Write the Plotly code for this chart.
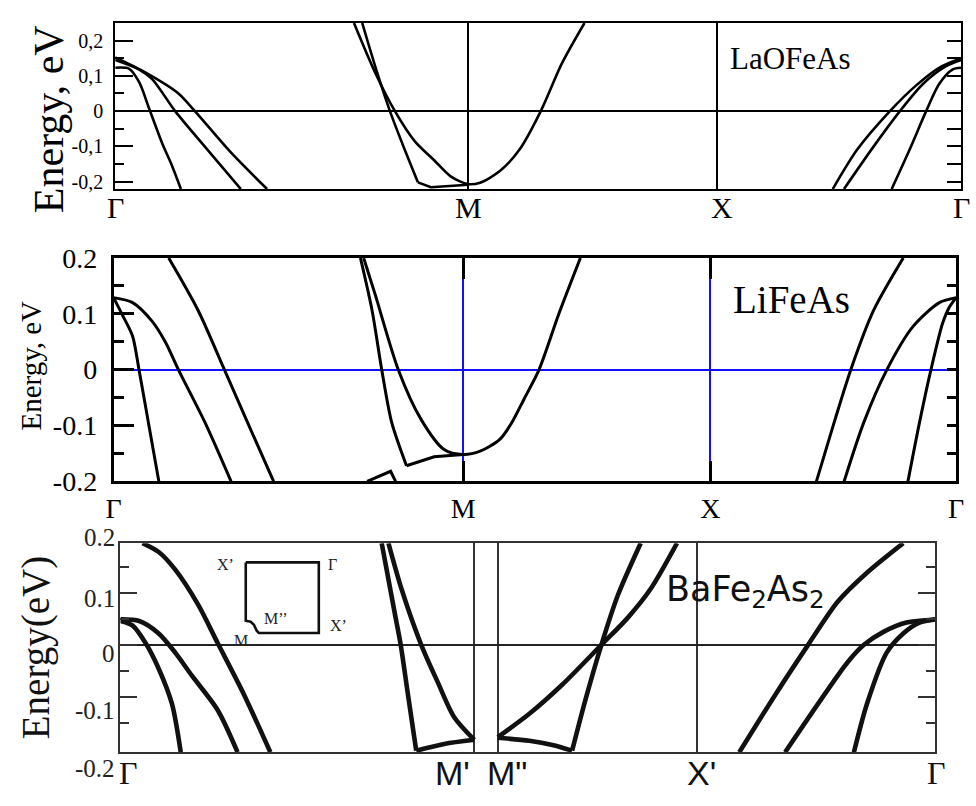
import plotly.graph_objects as go

SERIF = "Liberation Serif"
SANS = "Liberation Sans"
VERA = "DejaVu Sans"
BLUE = "#1010ff"

W, H = 976, 806

# ---------------- LaOFeAs : Γ - M - X - Γ ----------------
la_kpts = [0.0, 1.413, 2.410, 3.387]
la_klabels = ["Γ", "M", "X", "Γ"]
la_eticks = [-0.2, -0.1, 0.0, 0.1, 0.2]
la_eticktext = ["-0,2", "-0,1", "0", "0,1", "0,2"]
la_erange = [-0.221, 0.25]

la_b1_k = [0.0, 0.056, 0.096, 0.135, 0.188, 0.227, 0.263]
la_b1_e = [0.123, 0.120, 0.082, 0.009, -0.091, -0.154, -0.221]
la_b2_k = [0.0, 0.096, 0.148, 0.240, 0.358, 0.503]
la_b2_e = [0.145, 0.118, 0.091, 0.0, -0.100, -0.221]
la_b3_k = [0.0, 0.122, 0.253, 0.319, 0.464, 0.608]
la_b3_e = [0.152, 0.109, 0.050, 0.0, -0.118, -0.221]
la_b4_k = [0.989, 1.041, 1.100, 1.159, 1.212]
la_b4_e = [0.250, 0.127, 0.0, -0.109, -0.202]
la_b4flat_k = [1.212, 1.264, 1.413]
la_b4flat_e = [-0.202, -0.216, -0.209]
la_b5_k = [0.956, 1.041, 1.120, 1.199, 1.278, 1.343, 1.413, 1.461, 1.540, 1.619, 1.704, 1.789, 1.879]
la_b5_e = [0.250, 0.109, 0.0, -0.085, -0.140, -0.185, -0.207, -0.203, -0.170, -0.109, 0.0, 0.136, 0.250]
la_b6_k = [2.873, 2.971, 3.102, 3.207, 3.299, 3.387]
la_b6_e = [-0.221, -0.109, 0.0, 0.073, 0.123, 0.150]
la_b7_k = [2.918, 3.037, 3.142, 3.234, 3.325, 3.387]
la_b7_e = [-0.221, -0.100, 0.0, 0.077, 0.127, 0.145]
la_b8_k = [3.109, 3.181, 3.247, 3.299, 3.352, 3.387]
la_b8_e = [-0.221, -0.109, 0.0, 0.077, 0.118, 0.123]

# ---------------- LiFeAs : Γ - M - X - Γ ----------------
li_kpts = [0.0, 1.413, 2.412, 3.406]
li_klabels = ["Γ", "M", "X", "Γ"]
li_eticks = [-0.2, -0.1, 0.0, 0.1, 0.2]
li_eticktext = ["-0.2", "-0.1", "0", "0.1", "0.2"]
li_erange = [-0.2, 0.2]

li_b1_k = [0.0, 0.037, 0.077, 0.103, 0.143, 0.183]
li_b1_e = [0.129, 0.097, 0.060, 0.0, -0.100, -0.200]
li_b2_k = [0.0, 0.077, 0.157, 0.210, 0.262, 0.369, 0.475]
li_b2_e = [0.129, 0.120, 0.086, 0.049, 0.0, -0.094, -0.200]
li_b3_k = [0.223, 0.342, 0.448, 0.541, 0.647]
li_b3_e = [0.200, 0.106, 0.0, -0.094, -0.200]
li_b4_k = [0.998, 1.045, 1.084, 1.124, 1.184]
li_b4_e = [0.200, 0.106, 0.0, -0.094, -0.172]
li_b4flat_k = [1.184, 1.296, 1.413]
li_b4flat_e = [-0.172, -0.156, -0.152]
li_b5_k = [1.011, 1.058, 1.151, 1.243, 1.336, 1.413, 1.482, 1.561, 1.607, 1.660, 1.720, 1.800, 1.887]
li_b5_e = [0.200, 0.134, 0.0, -0.089, -0.143, -0.152, -0.146, -0.125, -0.097, -0.052, 0.0, 0.100, 0.200]
li_b6_k = [1.025, 1.120, 1.140]
li_b6_e = [-0.200, -0.182, -0.200]
li_b7_k = [2.841, 2.913, 2.980, 3.072, 3.192]
li_b7_e = [-0.200, -0.094, 0.0, 0.106, 0.200]
li_b8_k = [2.953, 3.033, 3.126, 3.231, 3.338, 3.406]
li_b8_e = [-0.200, -0.094, 0.0, 0.077, 0.120, 0.129]
li_b9_k = [3.211, 3.258, 3.304, 3.351, 3.377, 3.406]
li_b9_e = [-0.200, -0.094, 0.0, 0.083, 0.111, 0.129]

# ---------------- BaFe2As2 : Γ - M' | M'' - X' - Γ ----------------
ba_kpts = [0.0, 1.414, 1.508, 2.302, 3.256]
ba_klabels = ["Γ", "M'", 'M"', "X'", "Γ"]
ba_eticks = [0.2, 0.1, 0.0, -0.1, -0.2]
ba_eticktext = ["0.2", "0.1", "0", "-0.1", "-0.2"]
ba_erange = [-0.207, 0.196]

ba_b1_k = [0.0, 0.049, 0.101, 0.153, 0.206, 0.241]
ba_b1_e = [0.046, 0.037, 0.003, -0.046, -0.114, -0.207]
ba_b2_k = [0.0, 0.075, 0.153, 0.219, 0.285, 0.389, 0.468]
ba_b2_e = [0.049, 0.046, 0.022, -0.015, -0.059, -0.126, -0.207]
ba_b3_k = [0.088, 0.153, 0.219, 0.311, 0.389, 0.494, 0.599]
ba_b3_e = [0.196, 0.179, 0.145, 0.077, 0.003, -0.096, -0.207]
ba_b4_k = [1.044, 1.097, 1.120, 1.149, 1.182]
ba_b4_e = [0.196, 0.059, 0.0, -0.096, -0.204]
ba_b4flat_k = [1.182, 1.294, 1.414]
ba_b4flat_e = [-0.204, -0.191, -0.183]
ba_b5_k = [1.071, 1.123, 1.202, 1.267, 1.333, 1.414]
ba_b5_e = [0.196, 0.108, 0.0, -0.071, -0.139, -0.183]
ba_b6_k = [1.508, 1.634, 1.765, 1.922, 2.027, 2.119, 2.224]
ba_b6_e = [-0.178, -0.133, -0.077, 0.0, 0.052, 0.108, 0.196]
ba_b7flat_k = [1.508, 1.634, 1.726, 1.805]
ba_b7flat_e = [-0.179, -0.185, -0.193, -0.204]
ba_b7_k = [1.805, 1.857, 1.922, 1.988, 2.079]
ba_b7_e = [-0.204, -0.108, 0.0, 0.096, 0.196]
ba_b8_k = [2.473, 2.617, 2.748, 2.866, 2.983, 3.128]
ba_b8_e = [-0.207, -0.096, 0.0, 0.083, 0.139, 0.196]
ba_b9_k = [2.656, 2.813, 2.905, 2.971, 3.049, 3.141, 3.256]
ba_b9_e = [-0.207, -0.096, -0.034, 0.0, 0.025, 0.043, 0.049]
ba_b10_k = [2.931, 2.983, 3.062, 3.128, 3.193, 3.256]
ba_b10_e = [-0.207, -0.114, -0.015, 0.022, 0.043, 0.049]

# Brillouin-zone sketch (unit square with the cut corner at M)
bz_x = [0.0, 1.0, 1.0, 0.179, 0.148, 0.112, 0.067, 0.0, 0.0]
bz_y = [1.0, 1.0, 0.0, 0.0, 0.036, 0.118, 0.159, 0.173, 1.0]
bz_labels = ["X’", "Γ", "M’’", "X’", "M"]
bz_label_x = [-0.28, 1.19, 0.42, 1.27, -0.06]
bz_label_y = [0.97, 0.97, 0.21, 0.10, -0.10]


def dom_x(a, b):
    return [a / W, b / W]


def dom_y(top, bottom):
    return [1 - bottom / H, 1 - top / H]


# panel frames (page pixels)
P1_TOP, P1_BOTTOM = 8.3, 181
P3_TOP, P3_BOTTOM = 549.3, 766.7


def ba_energy_to_paper(v):
    lo, hi = ba_erange
    d0, d1 = dom_y(P3_TOP, P3_BOTTOM)
    return d0 + (v - lo) / (hi - lo) * (d1 - d0)


fig = go.Figure()


def band(k, e, xa, ya, width, shape="spline", color="black"):
    line = dict(color=color, width=width, shape=shape)
    if shape == "spline":
        line["smoothing"] = 0.8
    fig.add_trace(go.Scatter(x=k, y=e, xaxis=xa, yaxis=ya, mode="lines",
                             line=line, hoverinfo="skip", showlegend=False))


# LaOFeAs bands
for k, e in [(la_b1_k, la_b1_e), (la_b2_k, la_b2_e), (la_b3_k, la_b3_e),
             (la_b4_k, la_b4_e), (la_b5_k, la_b5_e), (la_b6_k, la_b6_e),
             (la_b7_k, la_b7_e), (la_b8_k, la_b8_e)]:
    band(k, e, "x", "y", 2.6)
band(la_b4flat_k, la_b4flat_e, "x", "y", 2.6, shape="linear")

# LiFeAs bands
for k, e in [(li_b1_k, li_b1_e), (li_b2_k, li_b2_e), (li_b3_k, li_b3_e),
             (li_b4_k, li_b4_e), (li_b5_k, li_b5_e), (li_b7_k, li_b7_e),
             (li_b8_k, li_b8_e), (li_b9_k, li_b9_e)]:
    band(k, e, "x2", "y2", 3)
band(li_b4flat_k, li_b4flat_e, "x2", "y2", 3, shape="linear")
band(li_b6_k, li_b6_e, "x2", "y2", 3, shape="linear")

# BaFe2As2 bands
for k, e in [(ba_b1_k, ba_b1_e), (ba_b2_k, ba_b2_e), (ba_b3_k, ba_b3_e),
             (ba_b4_k, ba_b4_e), (ba_b5_k, ba_b5_e), (ba_b6_k, ba_b6_e),
             (ba_b7_k, ba_b7_e), (ba_b8_k, ba_b8_e), (ba_b9_k, ba_b9_e),
             (ba_b10_k, ba_b10_e)]:
    band(k, e, "x3", "y3", 4.6, color="#111111")
band(ba_b4flat_k, ba_b4flat_e, "x3", "y3", 4.6, color="#111111")
band(ba_b7flat_k, ba_b7flat_e, "x3", "y3", 4.6, color="#111111")

# Brillouin-zone inset
fig.add_trace(go.Scatter(x=bz_x, y=bz_y, xaxis="x4", yaxis="y4", mode="lines",
                         line=dict(color="#111111", width=2.6), hoverinfo="skip",
                         showlegend=False))

# placeholders so the right-hand tick axes are rendered
fig.add_trace(go.Scatter(x=[None], y=[None], xaxis="x", yaxis="y5",
                         showlegend=False, hoverinfo="skip"))
fig.add_trace(go.Scatter(x=[None], y=[None], xaxis="x2", yaxis="y6",
                         showlegend=False, hoverinfo="skip"))

minor_vals = [-0.15, -0.05, 0.05, 0.15]
all_vals = [-0.2, -0.15, -0.1, -0.05, 0.0, 0.05, 0.1, 0.15, 0.2]

layout = dict(
    width=W, height=H,
    margin=dict(l=0, r=0, t=0, b=0),
    paper_bgcolor="white", plot_bgcolor="rgba(0,0,0,0)",
    showlegend=False,
    # ---- LaOFeAs ----
    xaxis=dict(domain=dom_x(109, 969), range=[0, la_kpts[-1]], anchor="y",
               tickmode="array", tickvals=la_kpts, ticks="", showticklabels=False,
               showgrid=True, gridcolor="black", gridwidth=1.6, zeroline=False,
               showline=True, linecolor="black", linewidth=2, mirror=True),
    yaxis=dict(domain=dom_y(P1_TOP, P1_BOTTOM), range=la_erange, anchor="x",
               tickmode="array", tickvals=la_eticks, ticktext=la_eticktext,
               ticks="inside", ticklen=18, tickwidth=2, tickcolor="black",
               minor=dict(tickmode="array", tickvals=minor_vals, ticks="inside",
                          ticklen=9, tickwidth=2, tickcolor="black", showgrid=False),
               showgrid=False, zeroline=True, zerolinecolor="black", zerolinewidth=1.6,
               showline=True, linecolor="black", linewidth=2, mirror=True,
               ticklabelstandoff=6,
               tickfont=dict(family=SERIF, size=20, color="black")),
    yaxis5=dict(overlaying="y", side="right", anchor="x", range=la_erange,
                tickmode="array", tickvals=all_vals, ticks="inside", ticklen=14,
                tickwidth=2, tickcolor="black", showticklabels=False,
                showgrid=False, zeroline=False, showline=False),
    # ---- LiFeAs ----
    xaxis2=dict(domain=dom_x(107.3, 964), range=[0, li_kpts[-1]], anchor="y2",
                tickmode="array", tickvals=li_kpts, ticktext=li_klabels,
                ticks="inside", ticklen=21, tickwidth=2.5, tickcolor="black",
                showgrid=True, gridcolor=BLUE, gridwidth=1.6, zeroline=False,
                showline=True, linecolor="black", linewidth=2.5, mirror="ticks",
                tickfont=dict(family=SERIF, size=28, color="black")),
    yaxis2=dict(domain=dom_y(252.7, 485), range=li_erange, anchor="x2",
                tickmode="array", tickvals=li_eticks, ticktext=li_eticktext,
                ticks="inside", ticklen=21, tickwidth=2.5, tickcolor="black",
                minor=dict(tickmode="array", tickvals=minor_vals, ticks="inside",
                           ticklen=11, tickwidth=2.5, tickcolor="black", showgrid=False),
                showgrid=False, zeroline=True, zerolinecolor=BLUE, zerolinewidth=1.6,
                showline=True, linecolor="black", linewidth=2.5, mirror=True,
                ticklabelstandoff=8,
                tickfont=dict(family=SERIF, size=28, color="black")),
    yaxis6=dict(overlaying="y2", side="right", anchor="x2", range=li_erange,
                tickmode="array", tickvals=minor_vals + [-0.1, 0.0, 0.1],
                ticks="inside", ticklen=9, tickwidth=2.5, tickcolor="black",
                showticklabels=False, showgrid=False, zeroline=False, showline=False),
    # ---- BaFe2As2 ----
    xaxis3=dict(domain=dom_x(114.3, 942.7), range=[0, ba_kpts[-1]], anchor="y3",
                tickmode="array", tickvals=ba_kpts, ticks="", showticklabels=False,
                showgrid=True, gridcolor="#333333", gridwidth=1.6, zeroline=False,
                showline=True, linecolor="#333333", linewidth=1.6, mirror=True),
    yaxis3=dict(domain=dom_y(P3_TOP, P3_BOTTOM), range=ba_erange, anchor="x3",
                tickmode="array", tickvals=[-0.1, 0.0, 0.1], ticks="inside",
                ticklen=17, tickwidth=2, tickcolor="#333333", showticklabels=False,
                minor=dict(tickmode="array", tickvals=minor_vals, ticks="inside",
                           ticklen=9, tickwidth=2, tickcolor="#333333", showgrid=False),
                showgrid=False, zeroline=True, zerolinecolor="#222222", zerolinewidth=1.6,
                showline=True, linecolor="#333333", linewidth=1.6, mirror="ticks"),
    # ---- inset (wide range so the corner labels stay inside it) ----
    xaxis4=dict(domain=dom_x(208.3, 349.4), range=[-0.45, 1.45], anchor="y4",
                visible=False, fixedrange=True),
    yaxis4=dict(domain=dom_y(558.3, 661.1), range=[-0.25, 1.15], anchor="x4",
                visible=False, fixedrange=True),
)
fig.update_layout(**layout)

ann = []
# compound names
ann.append(dict(text="LaOFeAs", xref="paper", yref="paper", x=796 / W, y=1 - 45 / H,
                showarrow=False, xanchor="center", yanchor="middle",
                font=dict(family=SERIF, size=31, color="black")))
ann.append(dict(text="LiFeAs", xref="paper", yref="paper", x=797 / W, y=1 - 296 / H,
                showarrow=False, xanchor="center", yanchor="middle",
                font=dict(family=SERIF, size=39, color="black")))
ann.append(dict(text="BaFe<sub>2</sub>As<sub>2</sub>", xref="paper", yref="paper",
                x=750 / W, y=1 - 600 / H, showarrow=False, xanchor="center",
                yanchor="middle", font=dict(family=VERA, size=35, color="#111111")))
# energy axis titles
ann.append(dict(text="Energy, eV", xref="paper", yref="paper", x=42 / W, y=1 - 108 / H,
                textangle=-90, showarrow=False, xanchor="center", yanchor="middle",
                font=dict(family=SERIF, size=42, color="black")))
ann.append(dict(text="Energy, eV", xref="paper", yref="paper", x=23 / W, y=1 - 365 / H,
                textangle=-90, showarrow=False, xanchor="center", yanchor="middle",
                font=dict(family=SERIF, size=29, color="black")))
ann.append(dict(text="Energy(eV)", xref="paper", yref="paper", x=28 / W, y=1 - 658 / H,
                textangle=-90, showarrow=False, xanchor="center", yanchor="middle",
                font=dict(family=SERIF, size=39, color="#111111")))

# LaOFeAs k-point labels
la_label_dx = [0, 0, 5, 0]
for kv, txt, dx in zip(la_kpts, la_klabels, la_label_dx):
    ann.append(dict(text=txt, xref="x", yref="paper", x=kv, xshift=dx, y=1 - 200 / H,
                    showarrow=False, xanchor="center", yanchor="middle",
                    font=dict(family=SERIF, size=30, color="black")))

# BaFe2As2 energy labels (slightly displaced from their ticks)
ba_label_shift = [4, -6, -9, -14, -20]
for val, txt, dy in zip(ba_eticks, ba_eticktext, ba_label_shift):
    ann.append(dict(text=txt, xref="paper", yref="paper", x=111 / W,
                    y=ba_energy_to_paper(val), yshift=dy,
                    showarrow=False, xanchor="right", yanchor="middle",
                    font=dict(family=SERIF, size=25, color="#222222")))

# BaFe2As2 k-point labels
ba_label_font = [SERIF, SANS, SANS, SANS, SERIF]
ba_label_size = [32, 34, 34, 34, 32]
ba_label_dx = [8, -22, 9, 5, 1]
for kv, txt, fam, sz, dx in zip(ba_kpts, ba_klabels, ba_label_font, ba_label_size, ba_label_dx):
    ann.append(dict(text=txt, xref="x3", yref="paper", x=kv, xshift=dx, y=1 - 788 / H,
                    showarrow=False, xanchor="center", yanchor="middle",
                    font=dict(family=fam, size=sz, color="#111111")))

# inset labels
for txt, lx, ly in zip(bz_labels, bz_label_x, bz_label_y):
    ann.append(dict(text=txt, xref="x4", yref="y4", x=lx, y=ly, showarrow=False,
                    xanchor="center", yanchor="middle",
                    font=dict(family=SERIF, size=16, color="#222222")))

fig.update_layout(annotations=ann)
fig.write_html("out.html")
